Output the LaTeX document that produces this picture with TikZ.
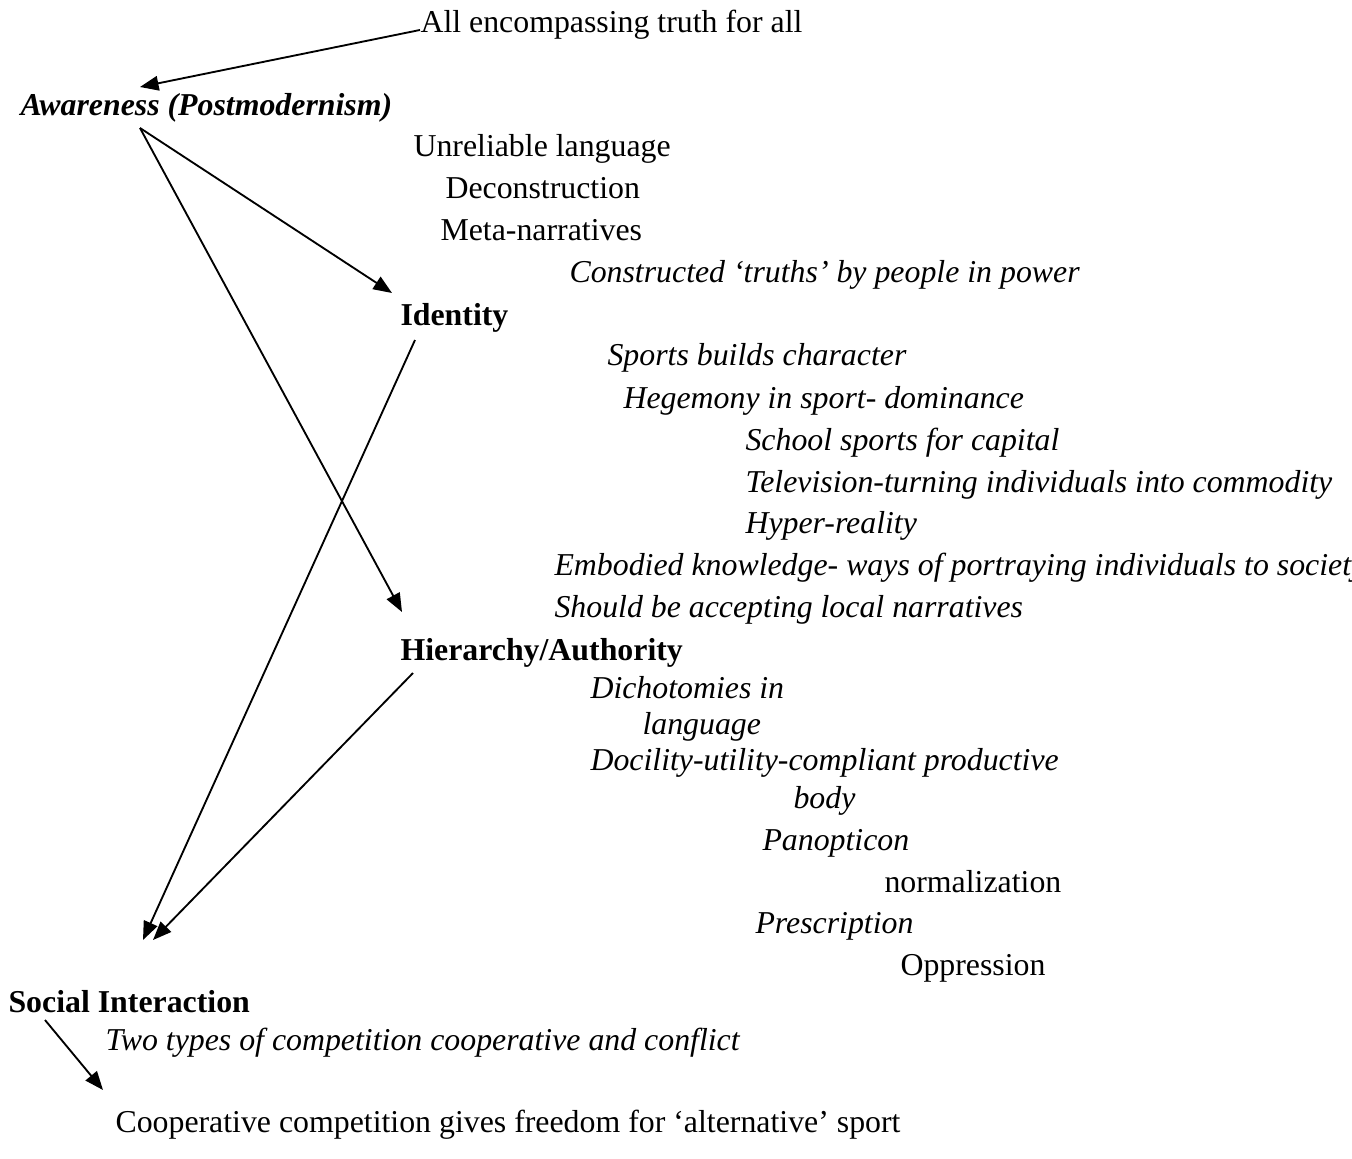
\documentclass[tikz,border=0pt]{standalone}
\usepackage{fontspec}
\setmainfont{Liberation Serif}
\usetikzlibrary{arrows.meta}

\tikzset{
  txt/.style={anchor=west, inner sep=0pt, text height=0.7em, text depth=0.2em, font=\fontsize{12}{14}\selectfont},
  itx/.style={txt, font=\fontsize{12}{14}\selectfont\itshape},
  bld/.style={txt, font=\fontsize{12}{14}\selectfont\bfseries},
  arr/.style={-{Triangle[length=7pt,width=5.5pt]}, line width=0.7pt}
}

\begin{document}
\begin{tikzpicture}[x=0.377pt, y=-0.377pt]
    \useasboundingbox (0,0) rectangle (1352,1159);

    % main headings
    \node[txt] (all) at (420,26) {All encompassing truth for all};
    \node[txt, font=\fontsize{12}{14}\selectfont\bfseries\itshape] (aware) at (20,109) {Awareness (Postmodernism)};
    \node[bld] (ident) at (400,319) {Identity};
    \node[bld] (hier) at (400,654) {Hierarchy/Authority};
    \node[bld] (social) at (8,1006) {Social Interaction};
    \node[txt] (coop) at (115,1126) {Cooperative competition gives freedom for `alternative' sport};

    % notes under awareness
    \node[txt] (unrel) at (413,150) {Unreliable language};
    \node[txt] (decon) at (445,192) {Deconstruction};
    \node[txt] (meta) at (440,234) {Meta-narratives};
    \node[itx] (truths) at (569,276) {Constructed `truths' by people in power};

    % notes under identity
    \node[itx] (sports) at (607,359) {Sports builds character};
    \node[itx] (hegem) at (623,402) {Hegemony in sport- dominance};
    \node[itx] (school) at (745,444) {School sports for capital};
    \node[itx] (telev) at (745,486) {Television-turning individuals into commodity};
    \node[itx] (hyper) at (745,527) {Hyper-reality};
    \node[itx] (embod) at (554,569) {Embodied knowledge- ways of portraying individuals to society};
    \node[itx] (local) at (554,611) {Should be accepting local narratives};

    % notes under hierarchy
    \node[itx] (dicho) at (590,692) {Dichotomies in};
    \node[itx] (lang) at (642,728) {language};
    \node[itx] (docil) at (590,764) {Docility-utility-compliant productive};
    \node[itx] (body) at (793,802) {body};
    \node[itx] (panop) at (762,844) {Panopticon};
    \node[txt] (norm) at (884,886) {normalization};
    \node[itx] (presc) at (755,927) {Prescription};
    \node[txt] (oppr) at (900,969) {Oppression};

    % notes under social interaction
    \node[itx] (twotypes) at (105,1044) {Two types of competition cooperative and conflict};

    % arrow ends
    \coordinate (awHead) at (140,87);
    \coordinate (awFoot) at (140,128);
    \coordinate (idHead) at (392,293);
    \coordinate (idFoot) at (415,340);
    \coordinate (hiHead) at (402,612);
    \coordinate (hiFoot) at (413,673);
    \coordinate (soHead1) at (143,940);
    \coordinate (soHead2) at (153,940);
    \coordinate (soFoot) at (45,1020);
    \coordinate (coHead) at (103,1090);

    \draw[arr] ([yshift=-1.5pt]all.west) -- (awHead);
    \draw[arr] (awFoot) -- (idHead);
    \draw[arr] (awFoot) -- (hiHead);
    \draw[arr] (idFoot) -- (soHead1);
    \draw[arr] (hiFoot) -- (soHead2);
    \draw[arr] (soFoot) -- (coHead);
\end{tikzpicture}
\end{document}
